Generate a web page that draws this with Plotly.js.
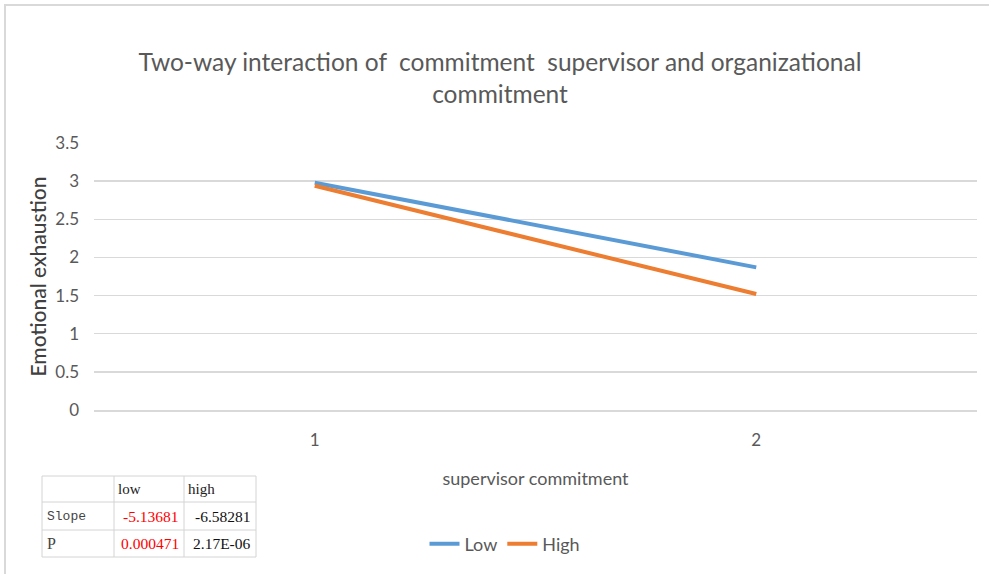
<!DOCTYPE html>
<html>
<head>
<meta charset="utf-8">
<script src="https://cdn.plot.ly/plotly-3.0.1.min.js"></script>
<style>html,body{margin:0;padding:0;background:#fff;}#chart{width:989px;height:574px;}</style>
</head>
<body>
<div id="chart"></div>
<script>
// ---- data ----
const categories = ["1", "2"];
const lowValues = [2.98, 1.87];
const highValues = [2.94, 1.52];
const seriesNames = ["Low", "High"];
const yTicks = [0, 0.5, 1, 1.5, 2, 2.5, 3, 3.5];
const yTickLabels = ["0", "0.5", "1", "1.5", "2", "2.5", "3", "3.5"];
const tableHeader = ["", "low", "high"];
const tableRowLabels = ["Slope", "P"];
const tableLowCol = ["-5.13681", "0.000471"];
const tableHighCol = ["-6.58281", "2.17E-06"];

// ---- geometry helpers (pixel -> paper) ----
const W = 989, H = 574;
const L = 94, R = 977, T = 143, B = 410;
const px = x => (x - L) / (R - L);
const py = y => (B - y) / (B - T);

const grey = "#595959";
const font = "Lato, sans-serif";

const traces = [
  {x: categories, y: lowValues, name: seriesNames[0], type: "scatter", mode: "lines",
   line: {color: "#5B9BD5", width: 4}},
  {x: categories, y: highValues, name: seriesNames[1], type: "scatter", mode: "lines",
   line: {color: "#ED7D31", width: 4}}
];

const shapes = [];
const annotations = [];
// outer chart border (top and left)
shapes.push({type: "line", xref: "paper", yref: "paper", x0: px(4), x1: px(989), y0: py(5), y1: py(5), line: {color: "#d9d9d9", width: 2}});
shapes.push({type: "line", xref: "paper", yref: "paper", x0: px(5), x1: px(5), y0: py(4), y1: py(574), line: {color: "#d9d9d9", width: 2}});

// stats table
const colX = [42, 114, 184, 256];
const rowY = [476, 502, 530, 557];
shapes.push({type: "rect", xref: "paper", yref: "paper", x0: px(colX[0]), x1: px(colX[3]), y0: py(rowY[0]), y1: py(rowY[3]), line: {color: "#d4d4d4", width: 1}, fillcolor: "#ffffff"});
for (let i = 1; i < 3; i++) {
  shapes.push({type: "line", xref: "paper", yref: "paper", x0: px(colX[i]), x1: px(colX[i]), y0: py(rowY[0]), y1: py(rowY[3]), line: {color: "#d4d4d4", width: 1}});
  shapes.push({type: "line", xref: "paper", yref: "paper", x0: px(colX[0]), x1: px(colX[3]), y0: py(rowY[i]), y1: py(rowY[i]), line: {color: "#d4d4d4", width: 1}});
}
const serif = "'Liberation Serif', 'Times New Roman', serif";
for (let c = 1; c < 3; c++) {
  annotations.push({text: tableHeader[c], xref: "paper", yref: "paper", x: px(colX[c] + 2), y: py((rowY[0] + rowY[1]) / 2), xanchor: "left", yanchor: "middle", showarrow: false, font: {family: serif, size: 15, color: "#222"}});
}
const rowFonts = ["'Liberation Mono', 'DejaVu Sans Mono', monospace", serif];
const rowSizes = [13, 16];
for (let r = 0; r < 2; r++) {
  const yc = py((rowY[r + 1] + rowY[r + 2]) / 2);
  annotations.push({text: tableRowLabels[r], xref: "paper", yref: "paper", x: px(colX[0] + 3), y: yc, xanchor: "left", yanchor: "middle", showarrow: false, font: {family: rowFonts[r], size: rowSizes[r], color: "#444"}});
  annotations.push({text: tableLowCol[r], xref: "paper", yref: "paper", x: px(colX[2] - 3), y: yc, xanchor: "right", yanchor: "middle", showarrow: false, font: {family: serif, size: 15.5, color: "#ff0000"}});
  annotations.push({text: tableHighCol[r], xref: "paper", yref: "paper", x: px(colX[3] - 3), y: yc, xanchor: "right", yanchor: "middle", showarrow: false, font: {family: serif, size: 15.5, color: "#111"}});
}

const layout = {
  width: W, height: H,
  margin: {l: L, r: W - R, t: T, b: H - B, pad: 0},
  paper_bgcolor: "#ffffff", plot_bgcolor: "#ffffff",
  font: {family: font, color: grey},
  title: {text: "Two-way interaction of  commitment  supervisor and organizational<br>commitment",
          font: {family: font, size: 24.5, color: grey}, x: 500 / W, xanchor: "center", xref: "container",
          y: 1 - 71 / H, yanchor: "middle"},
  xaxis: {type: "category", range: [-0.5, 1.5], showgrid: false, zeroline: false,
          showline: true, linecolor: "#d9d9d9", linewidth: 1.5, ticks: "", ticklabelstandoff: 14,
          tickfont: {family: font, size: 17, color: grey},
          title: {text: "supervisor commitment", font: {family: font, size: 18, color: grey}, standoff: 23}},
  yaxis: {range: [0, 3.5], tickvals: yTicks, ticktext: yTickLabels, showgrid: true, gridcolor: "#d9d9d9", gridwidth: 1.5,
          zeroline: false, showline: false, ticks: "", ticklabelstandoff: 14,
          tickfont: {family: font, size: 17, color: grey},
          title: {text: "Emotional exhaustion", font: {family: font, size: 21, color: "#404040", weight: 500}, standoff: 2}},
  legend: {orientation: "h", x: px(505), xanchor: "center", y: py(544), yanchor: "middle",
           font: {family: font, size: 18, color: grey}, itemwidth: 30, bgcolor: "rgba(0,0,0,0)"},
  shapes: shapes,
  annotations: annotations
};

Plotly.newPlot("chart", traces, layout, {displayModeBar: false, staticPlot: true});
</script>
</body>
</html>
